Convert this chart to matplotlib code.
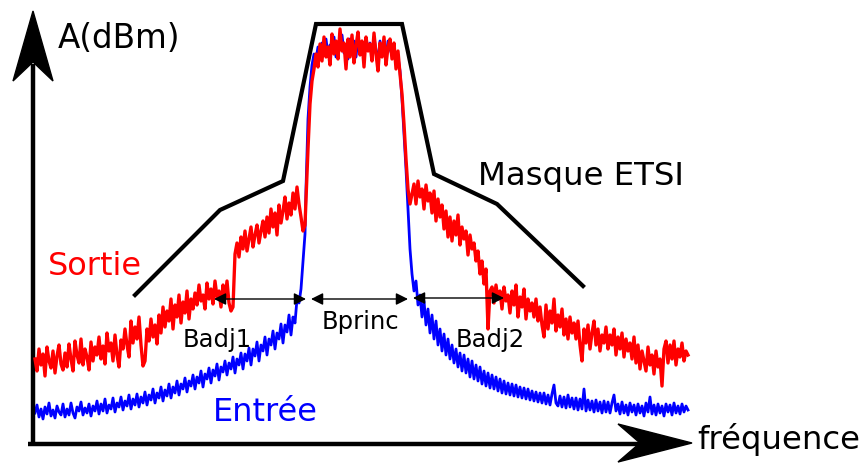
import numpy as np
import matplotlib
matplotlib.use("Agg")
from matplotlib import pyplot as plt
from matplotlib.patches import Polygon

# everything below is in picture pixels (x right, y down)

# ETSI mask corners
mask_x = [135, 220, 283, 316, 402, 434, 497, 583]
mask_y = [296, 211, 182, 25, 25, 175, 205, 287]

# Sortie (red) - left skirt (x 35..305), channel (306..412), right skirt (414..688)
red_left = [360, 372, 350, 366, 355, 377, 348, 362, 369, 352, 374, 357, 346, 365, 371, 354,
            368, 345, 360, 372, 342, 356, 364, 340, 366, 350, 358, 371, 343, 362, 348, 356,
            338, 360, 347, 365, 334, 352, 344, 362, 336, 356, 368, 341, 350, 330, 346, 358,
            322, 344, 328, 340, 318, 346, 367, 362, 330, 342, 320, 338, 326, 345, 316, 334,
            308, 328, 312, 322, 300, 330, 306, 318, 296, 324, 303, 314, 292, 320, 300, 310,
            294, 306, 286, 302, 296, 310, 284, 300, 290, 305, 282, 298, 292, 308, 286, 300,
            282, 304, 312, 308,
            255, 244, 258, 238, 250, 232, 252, 240, 228, 248, 236, 226, 244, 232, 222, 238,
            218, 234, 210, 228, 214, 236, 206, 224, 212, 198, 220, 204, 216, 194, 210, 188,
            205, 218, 232, 226]
red_center = [200, 150, 105, 82, 70, 55, 68, 45, 62, 38, 58, 48, 66, 35, 55, 42, 60, 30, 52,
              44, 70, 40, 58, 36, 64, 47, 33, 56, 42, 68, 38, 52, 45, 62, 34, 55, 72, 44, 58,
              38, 66, 48, 40, 60, 44, 70, 52, 75, 95, 125, 160, 190, 205, 195]
red_right = [185, 205, 182, 198, 190, 210, 186, 202, 194, 214, 192, 222, 200, 218, 206, 230,
             212, 238, 218, 242, 222, 236, 216, 246, 228, 240, 232, 256, 236, 250, 244, 262,
             252, 275, 262, 285, 270, 330, 292, 288, 304, 286, 300, 292, 310, 288, 302, 296,
             314, 292, 306, 286, 318, 298, 308, 290, 320, 300, 312, 304, 318, 300, 322, 308,
             326, 338, 306, 330, 312, 324, 300, 332, 316, 328, 310, 336, 320, 340, 318, 334,
             324, 340, 322, 346, 362, 330, 344, 326, 350, 334, 322, 346, 330, 352, 336, 344,
             328, 350, 336, 346, 330, 356, 338, 350, 334, 358, 340, 352, 344, 360, 338, 364,
             346, 370, 352, 362, 372, 348, 366, 356, 375, 352, 368, 360, 387, 350, 342, 364,
             346, 360, 342, 366, 350, 358, 344, 362, 352, 356]

# Entree (blue)
blue_left = [414, 406, 418, 410, 420, 408, 415, 404, 417, 411, 419, 407, 413, 416, 405, 418,
             410, 416, 404, 414, 419, 408, 412, 403, 416, 409, 414, 405, 417, 407, 412, 402,
             415, 405, 412, 400, 414, 406, 410, 399, 413, 404, 408, 398, 411, 402, 407, 396,
             410, 400, 406, 395, 408, 398, 404, 393, 406, 396, 401, 390, 404, 394, 399, 388,
             402, 391, 397, 385, 399, 388, 394, 382, 396, 385, 390, 379, 393, 382, 387, 376,
             390, 378, 384, 372, 388, 375, 380, 369, 384, 371, 377, 365, 381, 368, 373, 362,
             376, 364, 370, 358,
             374, 360, 366, 354, 370, 355, 362, 349, 366, 350, 357, 343, 362, 346, 352, 338,
             356, 340, 346, 332, 350, 334, 340, 325, 344, 326, 333, 316, 336, 318, 324, 300,
             304, 290, 262, 235]
blue_center = [190, 120, 88, 66, 55, 60, 48, 58, 44, 54, 40, 56, 46, 52, 38, 58, 44, 50, 36,
               54, 46, 60, 40, 50, 42, 58, 38, 52, 46, 56, 40, 50, 44, 58, 38, 52, 60, 42, 54,
               46, 60, 42, 50, 56, 46, 62, 58, 72, 100, 135, 170, 210, 250, 275]
blue_right = [292, 282, 306, 296, 318, 302, 326, 310, 334, 316, 340, 322, 346, 330, 352, 335,
              356, 340, 360, 346, 364, 350, 368, 354, 372, 356, 374, 360, 378, 362, 380, 366,
              382, 368, 385, 372, 387, 374, 389, 376, 390, 378, 392, 380, 394, 382, 395, 384,
              396, 385, 397, 386, 398, 388, 399, 389, 400, 390, 401, 392, 402, 393, 403, 394,
              404, 394, 405, 396, 406, 395, 386, 404, 407, 397, 408, 398, 409, 396, 408, 399,
              410, 399, 411, 400, 410, 390, 412, 401, 411, 402, 413, 401, 412, 403, 414, 402,
              413, 403, 414, 404, 396, 412, 405, 415, 403, 414, 406, 416, 404, 413, 406, 416,
              405, 414, 407, 417, 404, 413, 398, 415, 406, 416, 405, 414, 407, 417, 405, 413,
              406, 416, 404, 414, 407, 415, 405, 413, 407, 411]


def spectrum(left, center, right):
    x = np.concatenate([np.linspace(35, 305, len(left)),
                        np.linspace(306, 412, len(center)),
                        np.linspace(414, 688, len(right))])
    y = np.concatenate([left, center, right])
    return x, y


fig = plt.figure(figsize=(8.61, 4.64), dpi=100)
ax = fig.add_axes([0, 0, 1, 1])
ax.set_xlim(0, 861)
ax.set_ylim(464, 0)
ax.axis('off')

bx, by = spectrum(blue_left, blue_center, blue_right)
rx, ry = spectrum(red_left, red_center, red_right)
ax.plot(bx, by, color='#0000ff', lw=2.0, zorder=2)
ax.plot(rx, ry, color='#ff0000', lw=2.4, zorder=3)
ax.plot(mask_x, mask_y, color='black', lw=3, solid_joinstyle='miter', zorder=4)

# axes with big arrowheads
ax.plot([33, 33], [447, 65], color='black', lw=3.2, solid_capstyle='butt')
ax.plot([28, 645], [445, 445], color='black', lw=3.2, solid_capstyle='butt')
ax.add_patch(Polygon([(33, 12), (13, 82), (33, 63), (53, 82)], closed=True, color='black'))
ax.add_patch(Polygon([(692, 444), (618, 425), (640, 444), (618, 463)], closed=True, color='black'))

# band arrows
for x0, x1, y0 in [(214, 306, 300), (311, 408, 300), (413, 504, 299)]:
    ax.annotate('', xy=(x1, y0), xytext=(x0, y0),
                arrowprops=dict(arrowstyle='<|-|>', color='black', lw=1.0,
                                mutation_scale=18, shrinkA=0, shrinkB=0))

ax.text(58, 38, 'A(dBm)', fontsize=23.5, va='center', ha='left')
ax.text(697, 440, 'fréquence', fontsize=23.3, va='center', ha='left')
ax.text(478, 177, 'Masque ETSI', fontsize=23.3, va='center', ha='left')
ax.text(48, 267, 'Sortie', fontsize=23, va='center', ha='left', color='#ff0000')
ax.text(213, 413, 'Entrée', fontsize=23, va='center', ha='left', color='#0000ff')
ax.text(183, 340, 'Badj1', fontsize=17.5, va='center', ha='left')
ax.text(322, 322, 'Bprinc', fontsize=17.5, va='center', ha='left')
ax.text(456, 340, 'Badj2', fontsize=17.5, va='center', ha='left')

fig.savefig('out.png', dpi=100)
